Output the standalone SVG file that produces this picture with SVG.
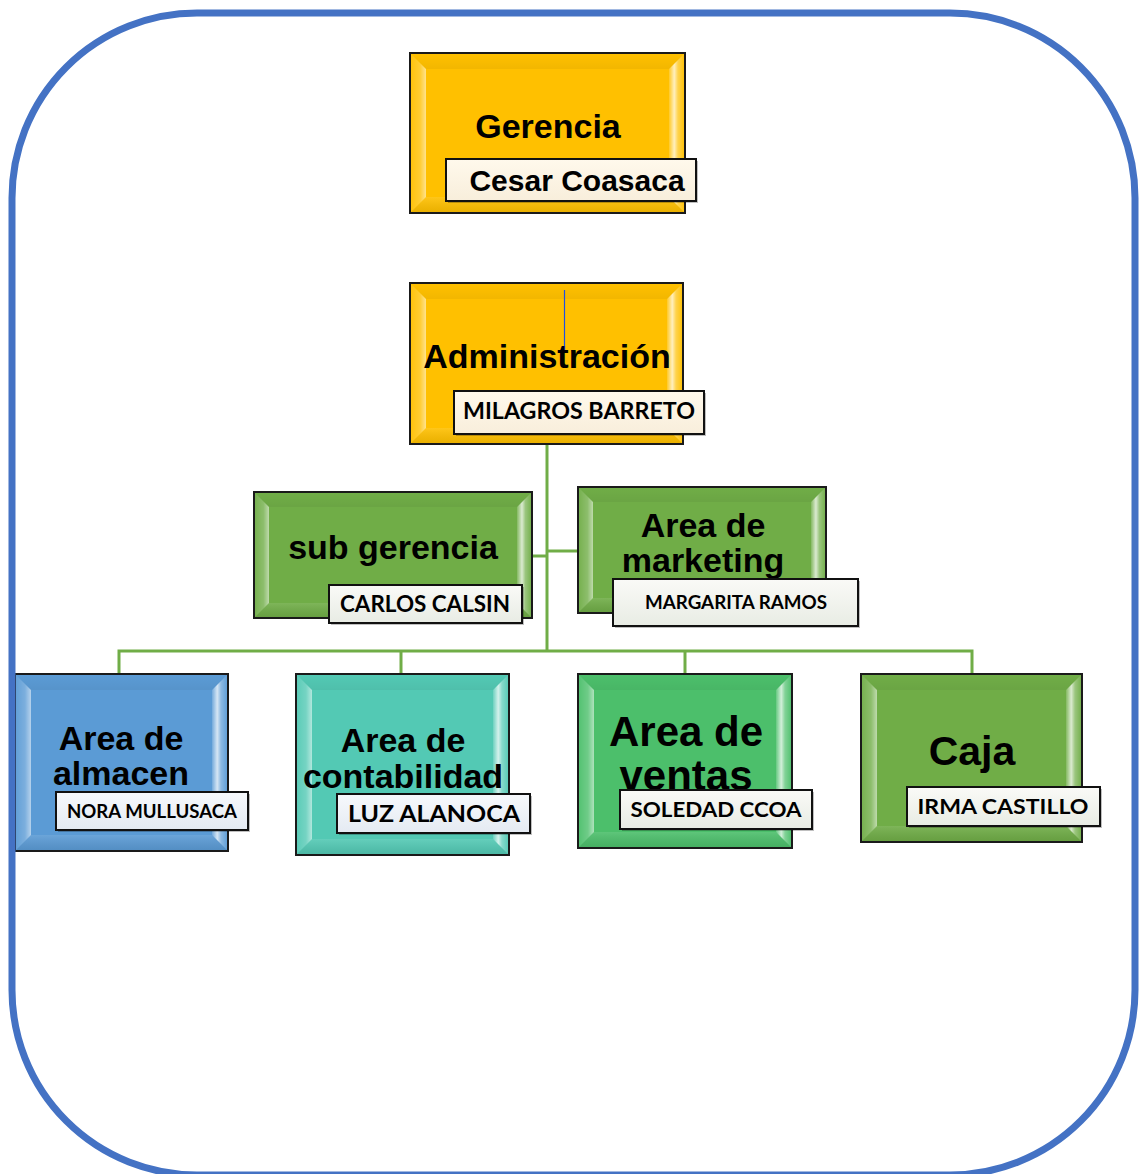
<svg xmlns="http://www.w3.org/2000/svg" width="1139" height="1174" viewBox="0 0 1139 1174">
  <defs>
    <linearGradient id="gL" x1="0" y1="0" x2="1" y2="0">
      <stop offset="0" stop-color="#fff" stop-opacity="0.05"/>
      <stop offset="0.6" stop-color="#fff" stop-opacity="0.2"/>
      <stop offset="1" stop-color="#fff" stop-opacity="0.55"/>
    </linearGradient>
    <linearGradient id="gR" x1="0" y1="0" x2="1" y2="0">
      <stop offset="0" stop-color="#fff" stop-opacity="0.15"/>
      <stop offset="0.35" stop-color="#fff" stop-opacity="0.75"/>
      <stop offset="0.6" stop-color="#fff" stop-opacity="0.3"/>
      <stop offset="1" stop-color="#fff" stop-opacity="0.05"/>
    </linearGradient>
    <linearGradient id="gT" x1="0" y1="0" x2="0" y2="1">
      <stop offset="0" stop-color="#000" stop-opacity="0.0"/>
      <stop offset="1" stop-color="#000" stop-opacity="0.05"/>
    </linearGradient>
    <linearGradient id="gB" x1="0" y1="0" x2="0" y2="1">
      <stop offset="0" stop-color="#fff" stop-opacity="0.1"/>
      <stop offset="1" stop-color="#000" stop-opacity="0.08"/>
    </linearGradient>
    <linearGradient id="lblY" x1="0" y1="0" x2="0" y2="1">
      <stop offset="0" stop-color="#FFF9EC"/>
      <stop offset="1" stop-color="#F8EEDB"/>
    </linearGradient>
    <linearGradient id="lblG" x1="0" y1="0" x2="0" y2="1">
      <stop offset="0" stop-color="#FAFAF7"/>
      <stop offset="1" stop-color="#E8ECE4"/>
    </linearGradient>
    <linearGradient id="lblB" x1="0" y1="0" x2="0" y2="1">
      <stop offset="0" stop-color="#F7F9FC"/>
      <stop offset="1" stop-color="#E4EAF2"/>
    </linearGradient>
  </defs>
  <style>
    .box { stroke: #1a1a1a; stroke-width: 2; }
    .lbl { stroke: #111; stroke-width: 2; }
    .shadow { fill: #000; opacity: 0.25; }
    .t { font-family: "Liberation Sans", Arial, sans-serif; font-weight: bold; fill: #000; text-anchor: middle; }
    .n { font-family: Lato, "Liberation Sans", sans-serif; font-weight: bold; fill: #000; text-anchor: middle; }
    .con { stroke: #70AD47; stroke-width: 3; fill: none; }
  </style>
  <rect x="0" y="0" width="1139" height="1174" fill="#fff"/>

  <g id="connectors">
    <line class="con" x1="547" y1="444" x2="547" y2="652"/>
    <line class="con" x1="532" y1="556" x2="547" y2="556"/>
    <line class="con" x1="547" y1="551" x2="578" y2="551"/>
    <polyline class="con" points="119,674 119,651 972,651 972,674"/>
    <line class="con" x1="401" y1="651" x2="401" y2="674"/>
    <line class="con" x1="685" y1="651" x2="685" y2="674"/>
  </g>

  <g id="gerencia">
    <rect class="box" x="410" y="53" width="275" height="160" fill="#FFC000"/>
    <path d="M411,54 L426,69 L426,197 L411,212 Z" fill="url(#gL)"/>
    <path d="M669,69 L684,54 L684,212 L669,197 Z" fill="url(#gR)"/>
    <path d="M411,54 L684,54 L669,69 L426,69 Z" fill="url(#gT)"/>
    <path d="M426,197 L669,197 L684,212 L411,212 Z" fill="url(#gB)"/>
    <text class="t" x="548" y="138" font-size="34">Gerencia</text>
    <rect class="shadow" x="448" y="161" width="250" height="42"/>
    <rect class="lbl" x="446" y="159" width="250" height="42" fill="url(#lblY)"/>
    <text class="t" x="577" y="191" font-size="30">Cesar Coasaca</text>
  </g>

  <g id="administracion">
    <rect class="box" x="410" y="283" width="273" height="161" fill="#FFC000"/>
    <path d="M411,284 L426,299 L426,428 L411,443 Z" fill="url(#gL)"/>
    <path d="M667,299 L682,284 L682,443 L667,428 Z" fill="url(#gR)"/>
    <path d="M411,284 L682,284 L667,299 L426,299 Z" fill="url(#gT)"/>
    <path d="M426,428 L667,428 L682,443 L411,443 Z" fill="url(#gB)"/>
    <line x1="564.5" y1="290" x2="564.5" y2="350" stroke="#1F4FE0" stroke-width="1.2"/>
    <text class="t" x="547" y="368" font-size="34">Administración</text>
    <rect class="shadow" x="456" y="393" width="250" height="43"/>
    <rect class="lbl" x="454" y="391" width="250" height="43" fill="url(#lblY)"/>
    <text class="n" x="579" y="419" font-size="22" textLength="232" lengthAdjust="spacingAndGlyphs">MILAGROS BARRETO</text>
  </g>

  <g id="subgerencia">
    <rect class="box" x="254" y="492" width="278" height="126" fill="#70AD47"/>
    <path d="M255,493 L269,507 L269,603 L255,617 Z" fill="url(#gL)"/>
    <path d="M517,507 L531,493 L531,617 L517,603 Z" fill="url(#gR)"/>
    <path d="M255,493 L531,493 L517,507 L269,507 Z" fill="url(#gT)"/>
    <path d="M269,603 L517,603 L531,617 L255,617 Z" fill="url(#gB)"/>
    <text class="t" x="393" y="559" font-size="34">sub gerencia</text>
    <rect class="shadow" x="331" y="587" width="193" height="38"/>
    <rect class="lbl" x="329" y="585" width="193" height="38" fill="url(#lblG)"/>
    <text class="n" x="425" y="612" font-size="22" textLength="170" lengthAdjust="spacingAndGlyphs">CARLOS CALSIN</text>
  </g>

  <g id="marketing">
    <rect class="box" x="578" y="487" width="248" height="126" fill="#70AD47"/>
    <path d="M579,488 L593,502 L593,598 L579,612 Z" fill="url(#gL)"/>
    <path d="M811,502 L825,488 L825,612 L811,598 Z" fill="url(#gR)"/>
    <path d="M579,488 L825,488 L811,502 L593,502 Z" fill="url(#gT)"/>
    <path d="M593,598 L811,598 L825,612 L579,612 Z" fill="url(#gB)"/>
    <text class="t" x="703" y="537" font-size="34">Area de</text>
    <text class="t" x="703" y="572" font-size="34">marketing</text>
    <rect class="shadow" x="615" y="581" width="245" height="47"/>
    <rect class="lbl" x="613" y="579" width="245" height="47" fill="url(#lblG)"/>
    <text class="n" x="736" y="609" font-size="18" textLength="182" lengthAdjust="spacingAndGlyphs">MARGARITA RAMOS</text>
  </g>

  <g id="almacen">
    <rect class="box" x="15" y="674" width="213" height="177" fill="#5B9BD5"/>
    <path d="M16,675 L31,690 L31,835 L16,850 Z" fill="url(#gL)"/>
    <path d="M212,690 L227,675 L227,850 L212,835 Z" fill="url(#gR)"/>
    <path d="M16,675 L227,675 L212,690 L31,690 Z" fill="url(#gT)"/>
    <path d="M31,835 L212,835 L227,850 L16,850 Z" fill="url(#gB)"/>
    <text class="t" x="121" y="750" font-size="34">Area de</text>
    <text class="t" x="121" y="785" font-size="34">almacen</text>
    <rect class="shadow" x="58" y="794" width="192" height="38"/>
    <rect class="lbl" x="56" y="792" width="192" height="38" fill="url(#lblB)"/>
    <text class="n" x="152" y="818" font-size="19" textLength="170" lengthAdjust="spacingAndGlyphs">NORA MULLUSACA</text>
  </g>

  <g id="contabilidad">
    <rect class="box" x="296" y="674" width="213" height="181" fill="#53C9B4"/>
    <path d="M297,675 L312,690 L312,839 L297,854 Z" fill="url(#gL)"/>
    <path d="M493,690 L508,675 L508,854 L493,839 Z" fill="url(#gR)"/>
    <path d="M297,675 L508,675 L493,690 L312,690 Z" fill="url(#gT)"/>
    <path d="M312,839 L493,839 L508,854 L297,854 Z" fill="url(#gB)"/>
    <text class="t" x="403" y="752" font-size="34">Area de</text>
    <text class="t" x="403" y="788" font-size="34">contabilidad</text>
    <rect class="shadow" x="339" y="796" width="193" height="39"/>
    <rect class="lbl" x="337" y="794" width="193" height="39" fill="url(#lblB)"/>
    <text class="n" x="434" y="822" font-size="23" textLength="172" lengthAdjust="spacingAndGlyphs">LUZ ALANOCA</text>
  </g>

  <g id="ventas">
    <rect class="box" x="578" y="674" width="214" height="174" fill="#4CBF6B"/>
    <path d="M579,675 L594,690 L594,832 L579,847 Z" fill="url(#gL)"/>
    <path d="M776,690 L791,675 L791,847 L776,832 Z" fill="url(#gR)"/>
    <path d="M579,675 L791,675 L776,690 L594,690 Z" fill="url(#gT)"/>
    <path d="M594,832 L776,832 L791,847 L579,847 Z" fill="url(#gB)"/>
    <text class="t" x="686" y="746" font-size="42">Area de</text>
    <text class="t" x="686" y="790" font-size="42">ventas</text>
    <rect class="shadow" x="622" y="792" width="192" height="39"/>
    <rect class="lbl" x="620" y="790" width="192" height="39" fill="url(#lblG)"/>
    <text class="n" x="716" y="817" font-size="21" textLength="171" lengthAdjust="spacingAndGlyphs">SOLEDAD CCOA</text>
  </g>

  <g id="caja">
    <rect class="box" x="861" y="674" width="221" height="168" fill="#70AD47"/>
    <path d="M862,675 L877,690 L877,826 L862,841 Z" fill="url(#gL)"/>
    <path d="M1066,690 L1081,675 L1081,841 L1066,826 Z" fill="url(#gR)"/>
    <path d="M862,675 L1081,675 L1066,690 L877,690 Z" fill="url(#gT)"/>
    <path d="M877,826 L1066,826 L1081,841 L862,841 Z" fill="url(#gB)"/>
    <text class="t" x="972" y="765" font-size="41">Caja</text>
    <rect class="shadow" x="909" y="789" width="193" height="39"/>
    <rect class="lbl" x="907" y="787" width="193" height="39" fill="url(#lblG)"/>
    <text class="n" x="1003" y="814" font-size="21" textLength="171" lengthAdjust="spacingAndGlyphs">IRMA CASTILLO</text>
  </g>

  <rect id="frame" x="12" y="13" width="1123" height="1162" rx="185" ry="185" fill="none" stroke="#4472C4" stroke-width="7"/>
</svg>
